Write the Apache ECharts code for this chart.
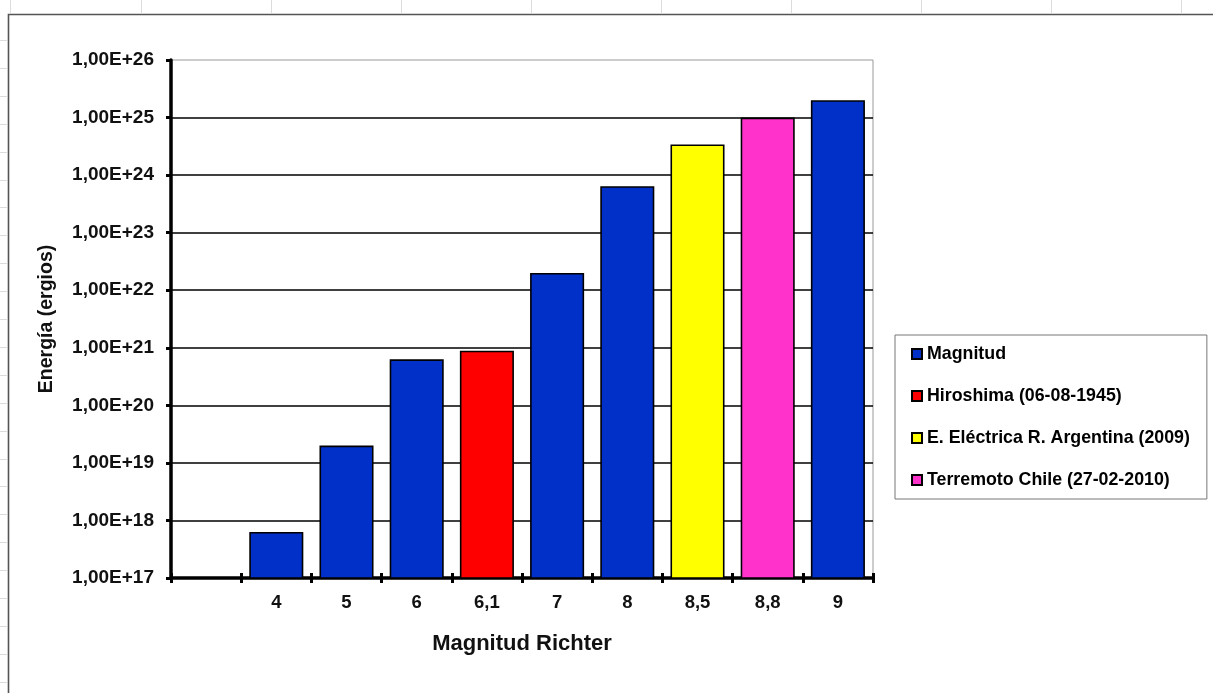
<!DOCTYPE html>
<html>
<head>
<meta charset="utf-8">
<script src="https://cdn.jsdelivr.net/npm/echarts@6/dist/echarts.min.js"></script>
<style>
html,body{margin:0;padding:0;background:#fff;}
#chart{width:1213px;height:693px;}
</style>
</head>
<body>
<div id="chart"></div>
<script>
const categories = ['', '4', '5', '6', '6,1', '7', '8', '8,5', '8,8', '9'];
const magnitud   = [null, 6.3e17, 2.0e19, 6.3e20, null, 2.0e22, 6.4e23, null, null, 2.0e25];
const hiroshima  = [null, null, null, null, 8.9e20, null, null, null, null, null];
const argentina  = [null, null, null, null, null, null, null, 3.4e24, null, null];
const chile      = [null, null, null, null, null, null, null, null, 1.0e25, null];
const seriesNames = ['Magnitud', 'Hiroshima (06-08-1945)', 'E. Eléctrica R. Argentina (2009)', 'Terremoto Chile (27-02-2010)'];
const seriesColors = ['#0030C8', '#FF0000', '#FFFF00', '#FF33CC'];
const yTickLabels = ['1,00E+17','1,00E+18','1,00E+19','1,00E+20','1,00E+21','1,00E+22','1,00E+23','1,00E+24','1,00E+25','1,00E+26'];
const yName = 'Energía (ergios)';
const xName = 'Magnitud Richter';

const FONT = '"Liberation Sans", Arial, sans-serif';
const chart = echarts.init(document.getElementById('chart'));

// decorative spreadsheet gridlines and chart frame
const deco = [];
[10, 141, 271, 401, 531, 661, 791, 921, 1051, 1181].forEach(x => {
  deco.push({type:'line', shape:{x1:x+0.5, y1:0, x2:x+0.5, y2:13}, style:{stroke:'#dcdcdc', lineWidth:1}, silent:true});
});
for (let k = 0; k < 24; k++) {
  const y = Math.round(40 + 27.9 * k) + 0.5;
  deco.push({type:'line', shape:{x1:0, y1:y, x2:7, y2:y}, style:{stroke:'#dcdcdc', lineWidth:1}, silent:true});
}
deco.push({type:'rect', shape:{x:8.5, y:14.5, width:1400, height:900}, style:{fill:'none', stroke:'#555', lineWidth:1.6}, silent:true});

function barSeries(name, data, color) {
  return {
    name: name, type: 'bar', data: data,
    barGap: '-100%', barCategoryGap: '23%',
    itemStyle: {color: color, borderColor: '#000', borderWidth: 1.6},
    clip: true
  };
}

chart.setOption({
  animation: false,
  backgroundColor: '#fff',
  graphic: deco,
  grid: {left: 171, right: 340, top: 60, bottom: 115, show: true, borderColor: '#999', borderWidth: 1, backgroundColor: 'transparent'},
  legend: {
    orient: 'vertical', left: 895, top: 335,
    padding: [10, 17, 10, 16],
    itemGap: 24, itemWidth: 10, itemHeight: 10,
    borderColor: '#777', borderWidth: 1,
    icon: 'rect',
    textStyle: {fontFamily: FONT, fontWeight: 'bold', fontSize: 17.8, color: '#000', lineHeight: 18},
    data: seriesNames
  },
  xAxis: [{
    type: 'category', data: categories,
    boundaryGap: true,
    name: xName, nameLocation: 'middle', nameGap: 55,
    nameTextStyle: {fontFamily: FONT, fontWeight: 'bold', fontSize: 22, color: '#111'},
    axisLine: {lineStyle: {color: '#000', width: 3.5}},
    axisTick: {show: true, interval: 0, length: 5, lineStyle: {color: '#000', width: 3}},
    axisLabel: {interval: 0, margin: 15, fontFamily: FONT, fontWeight: 'bold', fontSize: 18.5, color: '#111'}
  }, {
    type: 'category', data: categories, position: 'bottom',
    boundaryGap: true,
    axisLine: {show: false},
    axisTick: {show: true, inside: true, interval: 0, length: 5, lineStyle: {color: '#000', width: 3}},
    axisLabel: {show: false}
  }],
  yAxis: {
    type: 'log', logBase: 10, min: 1e17, max: 1e26, splitNumber: 9,
    name: yName, nameLocation: 'middle', nameGap: 114, nameRotate: 90,
    nameTextStyle: {fontFamily: FONT, fontWeight: 'bold', fontSize: 19.5, color: '#111'},
    axisLine: {show: true, lineStyle: {color: '#000', width: 3.5}},
    axisTick: {show: true, length: 5, lineStyle: {color: '#000', width: 3}},
    axisLabel: {
      margin: 17, fontFamily: FONT, fontWeight: 'bold', fontSize: 19, color: '#111',
      formatter: v => yTickLabels[Math.round(Math.log10(v)) - 17] || ''
    },
    splitLine: {show: true, showMaxLine: false, lineStyle: {color: '#000', width: 1.5}}
  },
  series: [
    barSeries(seriesNames[0], magnitud, seriesColors[0]),
    barSeries(seriesNames[1], hiroshima, seriesColors[1]),
    barSeries(seriesNames[2], argentina, seriesColors[2]),
    barSeries(seriesNames[3], chile, seriesColors[3])
  ]
});
</script>
</body>
</html>
